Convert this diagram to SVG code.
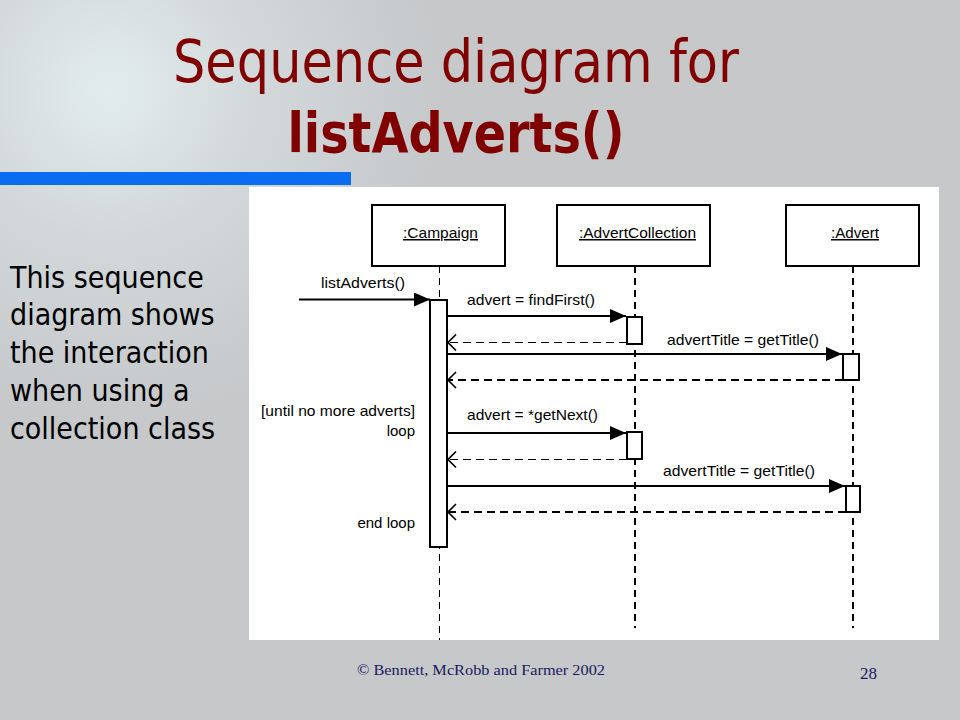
<svg xmlns="http://www.w3.org/2000/svg" width="960" height="720" viewBox="0 0 960 720">
  <defs>
    <radialGradient id="glow" cx="110" cy="90" r="330" gradientUnits="userSpaceOnUse">
      <stop offset="0" stop-color="#e2ecee"/>
      <stop offset="0.45" stop-color="#d2d8da"/>
      <stop offset="1" stop-color="#c6c8ca"/>
    </radialGradient>
    <marker id="filled" viewBox="0 0 16 14" refX="16" refY="7" markerWidth="16" markerHeight="14" markerUnits="userSpaceOnUse" orient="auto">
      <path d="M0,0 L16,7 L0,14 Z" fill="#000"/>
    </marker>
    <marker id="open" viewBox="0 0 10 18" refX="9" refY="9" markerWidth="10" markerHeight="18" markerUnits="userSpaceOnUse" orient="auto">
      <path d="M1,1 L9,9 L1,17" fill="none" stroke="#000" stroke-width="1.6"/>
    </marker>
    <style>
      .title { font-family: "DejaVu Sans Condensed", "DejaVu Sans", sans-serif; fill: #800000; }
      .side { font-family: "DejaVu Sans Condensed", "DejaVu Sans", sans-serif; font-size: 30px; fill: #000; }
      .lbl { font-family: "Liberation Sans", Arial, sans-serif; font-size: 15px; fill: #000; }
      .obj { fill: #fff; stroke: #000; stroke-width: 2; }
      .act { fill: #fff; stroke: #000; stroke-width: 2; }
      .life { stroke: #000; stroke-width: 2; stroke-dasharray: 7 5; fill: none; }
      .lifethin { stroke: #000; stroke-width: 1; stroke-dasharray: 7 5; fill: none; }
      .msg { stroke: #000; stroke-width: 2; fill: none; }
      .ret { stroke: #000; stroke-width: 1; stroke-dasharray: 8 5; fill: none; }
      .retb { stroke: #000; stroke-width: 2; stroke-dasharray: 8 5; fill: none; }
      .foot { font-family: "Liberation Serif", "Times New Roman", serif; fill: #1a1a5e; }
    </style>
  </defs>

  <!-- background -->
  <rect x="0" y="0" width="960" height="720" fill="url(#glow)"/>
  <rect x="0" y="172" width="351" height="13" fill="#0a6cf0"/>

  <!-- title -->
  <text class="title" x="456" y="82" font-size="58" text-anchor="middle" textLength="566" lengthAdjust="spacingAndGlyphs">Sequence diagram for</text>
  <text class="title" x="456" y="152" font-size="56" font-weight="bold" text-anchor="middle" textLength="337" lengthAdjust="spacingAndGlyphs">listAdverts()</text>

  <!-- side text -->
  <g id="side-text">
    <text class="side" x="10" y="288">This sequence</text>
    <text class="side" x="10" y="325">diagram shows</text>
    <text class="side" x="10" y="363">the interaction</text>
    <text class="side" x="10" y="401">when using a</text>
    <text class="side" x="10" y="439">collection class</text>
  </g>

  <!-- diagram panel -->
  <rect x="249" y="187" width="690" height="453" fill="#fff"/>

  <!-- lifelines -->
  <g id="lifelines">
    <line class="lifethin" x1="439.5" y1="266" x2="439.5" y2="640"/>
    <line class="life" x1="635" y1="266" x2="635" y2="628"/>
    <line class="life" x1="853" y1="266" x2="853" y2="628"/>
  </g>

  <!-- objects -->
  <g id="campaign">
    <rect class="obj" x="372" y="205" width="133" height="61"/>
    <text class="lbl" x="403" y="238" textLength="75" lengthAdjust="spacingAndGlyphs" text-decoration="underline">:Campaign</text>
  </g>
  <g id="advertcollection">
    <rect class="obj" x="557" y="205" width="153" height="61"/>
    <text class="lbl" x="579" y="238" textLength="117" lengthAdjust="spacingAndGlyphs" text-decoration="underline">:AdvertCollection</text>
  </g>
  <g id="advert">
    <rect class="obj" x="786" y="205" width="133" height="61"/>
    <text class="lbl" x="831" y="238" textLength="48" lengthAdjust="spacingAndGlyphs" text-decoration="underline">:Advert</text>
  </g>

  <!-- activations -->
  <g id="activations">
    <rect class="act" x="430" y="300" width="17" height="247"/>
    <rect class="act" x="627" y="317" width="15" height="27"/>
    <rect class="act" x="843" y="354" width="16" height="26"/>
    <rect class="act" x="627" y="432" width="15" height="27"/>
    <rect class="act" x="846" y="486" width="14" height="26"/>
  </g>

  <!-- connectors -->
  <g id="connectors">
    <line class="msg" x1="299" y1="299.5" x2="430" y2="299.5" marker-end="url(#filled)"/>
    <line class="msg" x1="447" y1="316" x2="626" y2="316" marker-end="url(#filled)"/>
    <line class="ret" x1="627" y1="342.5" x2="448" y2="342.5" marker-end="url(#open)"/>
    <line class="msg" x1="447" y1="354" x2="842" y2="354" marker-end="url(#filled)"/>
    <line class="retb" x1="843" y1="380" x2="448" y2="380" marker-end="url(#open)"/>
    <line class="msg" x1="447" y1="433" x2="626" y2="433" marker-end="url(#filled)"/>
    <line class="ret" x1="627" y1="459.5" x2="448" y2="459.5" marker-end="url(#open)"/>
    <line class="msg" x1="447" y1="486" x2="845" y2="486" marker-end="url(#filled)"/>
    <line class="retb" x1="846" y1="512" x2="448" y2="512" marker-end="url(#open)"/>
  </g>

  <!-- message labels -->
  <g id="labels">
    <text class="lbl" x="321" y="288" textLength="84" lengthAdjust="spacingAndGlyphs">listAdverts()</text>
    <text class="lbl" x="467" y="305" textLength="128" lengthAdjust="spacingAndGlyphs">advert = findFirst()</text>
    <text class="lbl" x="667" y="345" textLength="152" lengthAdjust="spacingAndGlyphs">advertTitle = getTitle()</text>
    <text class="lbl" x="415" y="416" text-anchor="end" textLength="154" lengthAdjust="spacingAndGlyphs">[until no more adverts]</text>
    <text class="lbl" x="415" y="436" text-anchor="end">loop</text>
    <text class="lbl" x="467" y="420" textLength="131" lengthAdjust="spacingAndGlyphs">advert = *getNext()</text>
    <text class="lbl" x="663" y="476" textLength="152" lengthAdjust="spacingAndGlyphs">advertTitle = getTitle()</text>
    <text class="lbl" x="415" y="528" text-anchor="end">end loop</text>
  </g>

  <!-- footer -->
  <text class="foot" x="357" y="675" font-size="14" textLength="248" lengthAdjust="spacingAndGlyphs">©  Bennett, McRobb and Farmer  2002</text>
  <text class="foot" x="860" y="679" font-size="17">28</text>
</svg>
